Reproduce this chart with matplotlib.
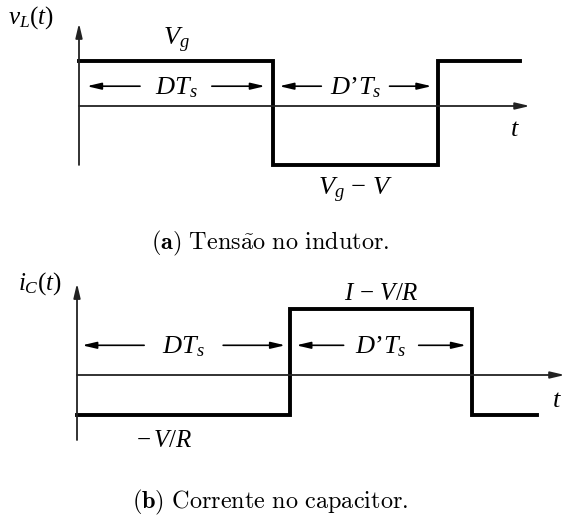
import numpy as np
import matplotlib.pyplot as plt

plt.rcParams['mathtext.fontset'] = 'custom'
plt.rcParams['mathtext.rm'] = 'Liberation Serif'
plt.rcParams['mathtext.it'] = 'Liberation Serif:italic'
plt.rcParams['mathtext.bf'] = 'Liberation Serif:bold'

# duty cycle and period (normalised)
D = 0.54
Ts = 1.0

# (a) inductor voltage levels
vg = 1.0
vg_minus_v = -1.31
t_a = [0, D*Ts, Ts, 1.228]
v_a = [vg, vg_minus_v, vg, vg]

# (b) capacitor current levels
i_minus_vr = 1.0
minus_vr = -0.6
t_b = [0, D*Ts, Ts, 1.165]
i_b = [minus_vr, i_minus_vr, minus_vr, minus_vr]

W, H = 566, 518
fig = plt.figure(figsize=(W/100, H/100), dpi=100)


def panel(x0, xs, y0, ys):
    # full-figure axes, origin at pixel (x0, y0), xs/ys pixels per unit
    ax = fig.add_axes([0, 0, 1, 1])
    ax.axis('off')
    ax.patch.set_alpha(0)
    ax.set_xlim(-x0/xs, (W - x0)/xs)
    ax.set_ylim((y0 - H)/ys, y0/ys)
    return ax


def arrow(ax, tail, head, lw=1.2, color='k'):
    ax.annotate('', xy=head, xytext=tail,
                arrowprops=dict(arrowstyle='-|>,head_length=0.85,head_width=0.2',
                                lw=lw, color=color, shrinkA=0, shrinkB=0,
                                mutation_scale=10))


def dimension(ax, a, b, y, label, gap, pad, fs):
    mid = (a + b)/2
    arrow(ax, (mid - gap, y), (a + pad, y))
    arrow(ax, (mid + gap, y), (b - pad, y))
    ax.text(mid, y - 0.02, label, ha='center', va='center', fontsize=fs)


fs = 19
axc = '#222222'

# ---------------------------- (a) v_L(t) ----------------------------
ax = panel(79, 359, 106, 45)
arrow(ax, (0, -1.31), (0, 1.84), lw=1.3, color=axc)
arrow(ax, (0, 0), (1.256, 0), lw=1.3, color=axc)
ax.plot(t_a, v_a, drawstyle='steps-post', color='k', lw=2.8, solid_joinstyle='miter')
dimension(ax, 0, D*Ts, 0.44, r'$DT_s$', 0.1, 0.022, fs)
dimension(ax, D*Ts, Ts, 0.44, r'$D’T_s$', 0.095, 0.018, fs)
ax.text(D*Ts/2, 1.45, r'$V_g$', ha='center', va='center', fontsize=fs)
ax.text((D*Ts + Ts)/2, -1.87, r'$V_g\,-\,V$', ha='center', va='center', fontsize=fs)
ax.text(1.215, -0.5, r'$t$', ha='center', va='center', fontsize=fs)
ax.text(-0.135, 1.96, r'$v_L(t)$', ha='center', va='center', fontsize=fs - 1)

# ---------------------------- (b) i_C(t) ----------------------------
ax = panel(77, 395, 375, 66)
arrow(ax, (0, -0.985), (0, 1.39), lw=1.3, color=axc)
arrow(ax, (0, 0), (1.235, 0), lw=1.3, color=axc)
ax.plot(t_b, i_b, drawstyle='steps-post', color='k', lw=2.8, solid_joinstyle='miter')
dimension(ax, 0, D*Ts, 0.45, r'$DT_s$', 0.1, 0.013, fs)
dimension(ax, D*Ts, Ts, 0.45, r'$D’T_s$', 0.095, 0.015, fs)
ax.text((D*Ts + Ts)/2, 1.25, r'$I\,-\,V/R$', ha='center', va='center', fontsize=fs - 1)
ax.text(D*Ts/2 - 0.05, -0.99, r'$-\,V/R$', ha='center', va='center', fontsize=fs - 1)
ax.text(1.215, -0.38, r'$t$', ha='center', va='center', fontsize=fs)
ax.text(-0.095, 1.39, r'$i_C(t)$', ha='center', va='center', fontsize=fs - 1)

# captions
fig.text(270/W, 1 - 243/H, r'$\mathbf{(a)}\ \mathrm{Tens\tilde{a}o\ no\ indutor.}$',
         ha='center', va='center', fontsize=17.5, math_fontfamily='cm')
fig.text(270/W, 1 - 502/H, r'$\mathbf{(b)}\ \mathrm{Corrente\ no\ capacitor.}$',
         ha='center', va='center', fontsize=17.5, math_fontfamily='cm')

fig.savefig('out.png', dpi=100)
